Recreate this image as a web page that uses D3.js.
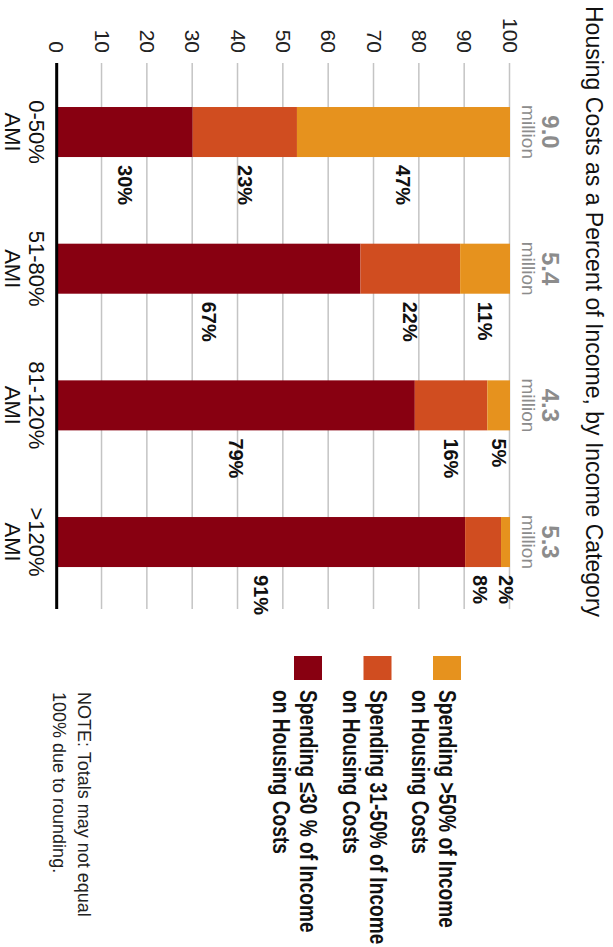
<!DOCTYPE html>
<html><head><meta charset="utf-8">
<script src="https://cdn.jsdelivr.net/npm/d3@7/dist/d3.min.js"></script>
<style>
html,body{margin:0;padding:0;background:#fff}
svg{display:block}
</style>
</head><body>
<div id="chart"></div>
<script>
// ---------- data ----------
const categories = ["0-50%", "51-80%", "81-120%", ">120%"];
const categorySuffix = "AMI";
const householdsMillions = ["9.0", "5.4", "4.3", "5.3"];
const householdsUnit = "million";
const spendingLe30 = [30, 67, 79, 91];
const spending31to50 = [23, 22, 16, 8];
const spendingGt50 = [47, 11, 5, 2];
const seriesKeys = ["le30", "s31to50", "gt50"];
const seriesLabels = [
  ["Spending \u226430 % of Income", "on Housing Costs"],
  ["Spending 31-50% of Income", "on Housing Costs"],
  ["Spending >50% of Income", "on Housing Costs"]
];
const seriesColors = ["#880011", "#d04d20", "#e6921e"];
const tickValues = [0, 10, 20, 30, 40, 50, 60, 70, 80, 90, 100];
const titleText = "Housing Costs as a Percent of Income, by Income Category";
const noteLines = ["NOTE: Totals may not equal", "100% due to rounding."];

// ---------- setup (chart drawn in an unrotated frame, then rotated 90deg) ----------
const W = 613, H = 947;
const svg = d3.select("#chart").append("svg").attr("width", W).attr("height", H);
const g = svg.append("g").attr("transform", `translate(${W},0) rotate(90)`);

const rows = categories.map((c, i) => ({cat: c, le30: spendingLe30[i], s31to50: spending31to50[i], gt50: spendingGt50[i]}));
const stacked = d3.stack().keys(seriesKeys).offset(d3.stackOffsetExpand)(rows);

const x = d3.scaleBand().domain(categories).range([63, 609])
  .paddingInner(0.634).paddingOuter(0.3145).align(0.512);
const y = d3.scaleLinear().domain([0, 1]).range([556.3, 103]);
const bw = x.bandwidth();

const baseFont = "'Liberation Sans', Arial, sans-serif";

// title
g.append("text").attr("x", 6).attr("y", 27)
  .attr("font-family", baseFont).attr("font-size", 23).attr("fill", "#111")
  .text(titleText);

// grid + tick labels
const axis = d3.axisLeft(y).tickValues(tickValues.map(t => t / 100))
  .tickSize(-(609 - 63)).tickPadding(10).tickFormat(d => d3.format("d")(Math.round(d * 100)));
const ax = g.append("g").attr("transform", "translate(63,0)").call(axis);
ax.select(".domain").remove();
ax.selectAll(".tick line").attr("stroke", "#c4c4c4").attr("stroke-width", 1.5);
ax.selectAll(".tick text").attr("font-family", baseFont).attr("font-size", 21).attr("fill", "#222");

// bars
g.append("g").selectAll("g").data(stacked).join("g")
  .attr("fill", (d, i) => seriesColors[i])
  .selectAll("rect").data(d => d).join("rect")
  .attr("x", d => x(d.data.cat)).attr("width", bw)
  .attr("y", d => y(d[1])).attr("height", d => y(d[0]) - y(d[1]));

// zero baseline
g.append("line").attr("x1", 63).attr("x2", 609).attr("y1", y(0)).attr("y2", y(0))
  .attr("stroke", "#000").attr("stroke-width", 3);

// percent labels (centered on segments, pushed apart when crowded)
const minGap = 26;
categories.forEach((c, ci) => {
  const items = stacked.map((s, si) => ({
    v: y((s[ci][0] + s[ci][1]) / 2),
    text: rows[ci][seriesKeys[si]] + "%"
  })).sort((a, b) => a.v - b.v);
  for (let k = 1; k < items.length; k++) {
    if (items[k].v < items[k - 1].v + minGap) items[k].v = items[k - 1].v + minGap;
  }
  g.append("g").selectAll("text").data(items).join("text")
    .attr("x", x(c) + bw + 8).attr("y", d => d.v)
    .attr("dominant-baseline", "central")
    .attr("font-family", baseFont).attr("font-weight", "bold").attr("font-size", 20).attr("fill", "#111")
    .text(d => d.text);
});

// household totals above bars
const tot = g.append("g").selectAll("g").data(categories).join("g")
  .attr("transform", c => `translate(${x(c) + bw / 2},0)`);
tot.append("text").attr("y", 71).attr("text-anchor", "middle")
  .attr("font-family", baseFont).attr("font-weight", "bold").attr("font-size", 24).attr("fill", "#8c8c8c")
  .text((c, i) => householdsMillions[i]);
tot.append("text").attr("y", 91).attr("text-anchor", "middle")
  .attr("font-family", baseFont).attr("font-size", 19).attr("fill", "#8c8c8c")
  .text(householdsUnit);

// category labels
const cl = g.append("g").selectAll("text").data(categories).join("text")
  .attr("text-anchor", "middle").attr("font-family", baseFont).attr("font-size", 22).attr("fill", "#111");
cl.append("tspan").attr("x", c => x(c) + bw / 2).attr("y", 584).text(c => c);
cl.append("tspan").attr("x", c => x(c) + bw / 2).attr("y", 608).text(categorySuffix);

// legend (top entry = highest band); condensed look via horizontal scale
const legendOrder = [2, 1, 0];
const leg = g.append("g").selectAll("g").data(legendOrder).join("g")
  .attr("transform", (si, i) => `translate(656,${152 + i * 69.5})`);
leg.append("rect").attr("width", 24).attr("height", 28).attr("fill", si => seriesColors[si]);
const ltg = leg.append("g").attr("transform", "translate(34,0)");
const lt = ltg.append("text").attr("font-family", baseFont).attr("font-weight", "bold")
  .attr("font-size", 23.5).attr("fill", "#111");
lt.append("tspan").attr("x", 0).attr("y", 22).text(si => seriesLabels[si][0]);
lt.append("tspan").attr("x", 0).attr("y", 49).text(si => seriesLabels[si][1]);
// condense so the first legend line spans the same length as in the original
const firstLine = lt.filter((d, i) => i === 0).select("tspan").node();
const natural = firstLine.getComputedTextLength();
const sx = natural > 0 ? 238 / natural : 0.82;
ltg.attr("transform", `translate(34,0) scale(${sx},1)`);

// note
g.append("g").selectAll("text").data(noteLines).join("text")
  .attr("x", 692).attr("y", (d, i) => 535 + i * 25)
  .attr("font-family", baseFont).attr("font-size", 18).attr("fill", "#222")
  .text(d => d);
</script>
</body></html>
